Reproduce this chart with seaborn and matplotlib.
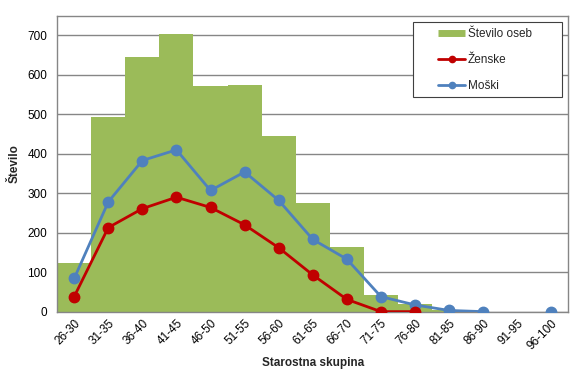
"""Porazdelitev po starostnih skupinah: stolpci + crte za spol."""
import numpy as np
import pandas as pd
import matplotlib
matplotlib.use("Agg")
import matplotlib.pyplot as plt
from matplotlib.lines import Line2D
from matplotlib.patches import Rectangle
import seaborn as sns

# Podatki (odcitani s slike)
skupine = ["26-30", "31-35", "36-40", "41-45", "46-50", "51-55", "56-60", "61-65",
           "66-70", "71-75", "76-80", "81-85", "86-90", "91-95", "96-100"]
stevilo_oseb = [122, 492, 646, 703, 572, 574, 444, 275, 164, 41, 19, 4, 0, 0, 0]
zenske = [38, 213, 261, 290, 264, 220, 162, 93, 31, 0, 0, np.nan, np.nan, np.nan, np.nan]
moski = [84, 278, 383, 410, 307, 354, 282, 183, 133, 38, 17, 3, 0, np.nan, 0]

ZELENA = "#9BBB59"
RDECA = "#C00000"
MODRA = "#4F81BD"
SIVA = "#868686"
FS = 8.5

sns.set_style("white")
plt.rcParams["font.family"] = ["Liberation Sans", "DejaVu Sans"]

df = pd.DataFrame({"skupina": skupine, "stevilo": stevilo_oseb})

fig = plt.figure(figsize=(5.83, 3.92), dpi=100)
ax = fig.add_axes([0.098, 0.205, 0.877, 0.755])

sns.barplot(data=df, x="skupina", y="stevilo", order=skupine, color=ZELENA,
            width=1.0, linewidth=0, saturation=1, ax=ax, zorder=2)

x = np.arange(len(skupine))
ax.plot(x, moski, color=MODRA, lw=2, marker="o", ms=7.5, zorder=4)
ax.plot(x, zenske, color=RDECA, lw=2, marker="o", ms=7.5, zorder=5)

ax.set_xlim(-0.5, len(skupine) - 0.5)
ax.set_ylim(0, 750)
ax.set_yticks(range(0, 701, 100))
ax.yaxis.grid(True, color=SIVA, lw=1, zorder=0)
ax.set_axisbelow(True)

# kljukice na mejah skupin, oznake na sredini
ax.set_xticks(x)
ax.set_xticks(np.arange(-0.5, len(skupine)), minor=True)
ax.tick_params(axis="x", which="major", length=0, pad=4)
ax.tick_params(axis="x", which="minor", length=4, color=SIVA, width=1)
ax.tick_params(axis="y", length=4, color=SIVA, width=1, pad=3)
ax.tick_params(labelsize=FS, labelcolor="black")
for lbl in ax.get_xticklabels():
    lbl.set_rotation(45)
    lbl.set_ha("right")
    lbl.set_rotation_mode("anchor")

for sp in ax.spines.values():
    sp.set_color(SIVA)
    sp.set_linewidth(1)

ax.set_xlabel("Starostna skupina", fontsize=FS, fontweight="bold", labelpad=4)
ax.set_ylabel("Število", fontsize=FS, fontweight="bold", labelpad=5)

# legenda: okvir narisan posebej (sirši odmik levo/desno kot v izvirniku)
okvir = Rectangle((412.5 / 583, 1 - 97 / 392), 149 / 583, 75 / 392,
                  transform=fig.transFigure, facecolor="white",
                  edgecolor="#404040", lw=0.8, zorder=10)
fig.patches.append(okvir)

rocaji = [
    Line2D([], [], color=ZELENA, lw=5, solid_capstyle="butt", label="Število oseb"),
    Line2D([], [], color=RDECA, lw=2, marker="o", ms=4.5, label="Ženske"),
    Line2D([], [], color=MODRA, lw=2, marker="o", ms=4.5, label="Moški"),
]
leg = fig.legend(handles=rocaji, loc="upper left",
                 bbox_to_anchor=(438 / 583, 1 - 28 / 392),
                 fontsize=FS, frameon=False, borderpad=0, labelspacing=1.2,
                 handlelength=2.3, handletextpad=0.25, borderaxespad=0)
leg.set_zorder(11)

fig.savefig("out.png", dpi=100)
plt.close(fig)
